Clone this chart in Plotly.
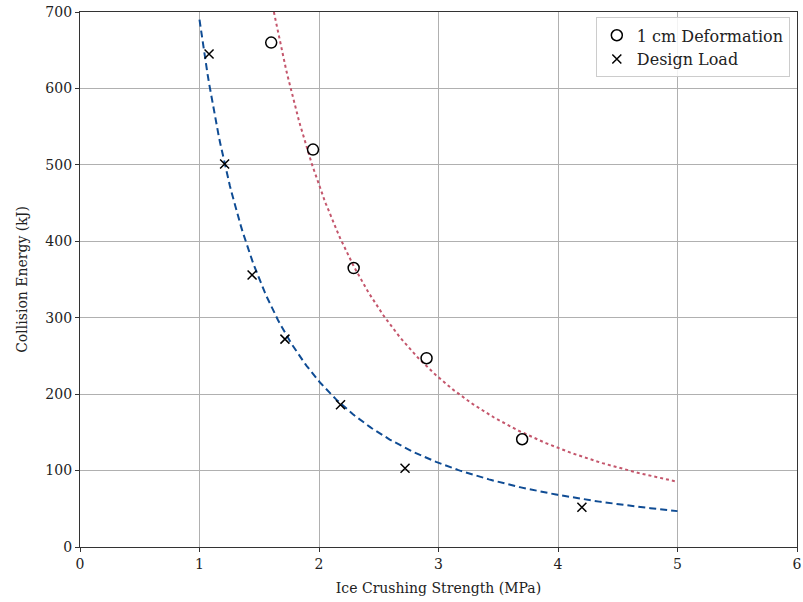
import numpy as np
import plotly.graph_objects as go

# Measured points: ice crushing strength (MPa) vs collision energy (kJ)
deform_strength = [1.60, 1.95, 2.29, 2.90, 3.70]
deform_energy = [660, 520, 365, 247, 141]

design_strength = [1.08, 1.21, 1.44, 1.715, 2.18, 2.72, 4.20]
design_energy = [645, 501, 356, 272, 186, 103, 52]

# Power-law trend lines E = a * S**b
deform_fit = [1731.0, -1.87]
design_fit = [690.0, -1.67]
fit_range = [1.0, 5.0]

x_ticks = [0, 1, 2, 3, 4, 5, 6]
y_ticks = [0, 100, 200, 300, 400, 500, 600, 700]

xs = np.linspace(fit_range[0], fit_range[1], 300)

FONT = "DejaVu Serif"

fig = go.Figure()
fig.add_trace(go.Scatter(
    x=xs, y=deform_fit[0] * xs ** deform_fit[1], mode="lines", showlegend=False,
    line=dict(color="#c4566c", width=2, dash="dot"), hoverinfo="skip"))
fig.add_trace(go.Scatter(
    x=xs, y=design_fit[0] * xs ** design_fit[1], mode="lines", showlegend=False,
    line=dict(color="#0f4c94", width=2, dash="7px,4px"), hoverinfo="skip"))
fig.add_trace(go.Scatter(
    x=deform_strength, y=deform_energy, mode="markers", name="1 cm Deformation",
    marker=dict(symbol="circle-open", size=11, color="black", line=dict(width=1.5))))
fig.add_trace(go.Scatter(
    x=design_strength, y=design_energy, mode="markers", name="Design Load",
    marker=dict(symbol="x-thin-open", size=9, color="black", line=dict(width=1.5, color="black"))))

axis_common = dict(
    showgrid=True, gridcolor="#b0b0b0", gridwidth=1,
    showline=True, linecolor="#333333", linewidth=1.2, mirror=True,
    ticks="outside", ticklen=4, tickcolor="#333333",
    zeroline=False, automargin=False,
    tickfont=dict(family=FONT, size=14, color="#222"),
)

fig.update_xaxes(range=[0, 6], tickvals=x_ticks,
                 title=dict(text="Ice Crushing Strength (MPa)", font=dict(family=FONT, size=14, color="#222"), standoff=12),
                 **axis_common)
fig.update_yaxes(range=[0, 700], tickvals=y_ticks,
                 title=dict(text="Collision Energy (kJ)", font=dict(family=FONT, size=14, color="#222"), standoff=14),
                 **axis_common)

fig.update_layout(
    width=803, height=602,
    margin=dict(l=80, r=6, t=12, b=55),
    plot_bgcolor="white", paper_bgcolor="white",
    font=dict(family=FONT, size=14, color="#222"),
    legend=dict(x=0.99, y=0.99, xanchor="right", yanchor="top",
                bgcolor="rgba(255,255,255,0.85)", bordercolor="#cccccc", borderwidth=1,
                font=dict(family=FONT, size=16)),
)

fig.write_html("out.html")
